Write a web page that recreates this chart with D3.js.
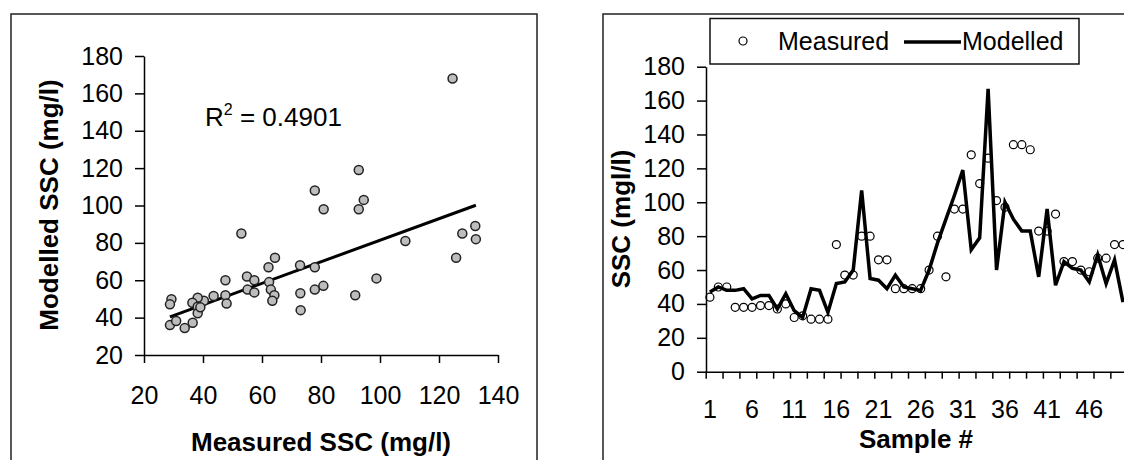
<!DOCTYPE html>
<html>
<head>
<meta charset="utf-8">
<script src="https://cdn.jsdelivr.net/npm/d3@7"></script>
<style>
  body { margin: 0; background: #fff; }
  svg { display: block; font-family: "Liberation Sans", Arial, sans-serif; }
  .axis path, .axis line { stroke: #000; stroke-width: 1.5px; }
  .axis text { font-size: 25px; fill: #000; font-family: "Liberation Sans", Arial, sans-serif; }
  .title { font-size: 26px; font-weight: bold; fill: #000; }
</style>
</head>
<body>
<div id="chart"></div>
<script>
// left panel: measured vs modelled scatter
var scatterMeasured = [124.6, 92.8, 77.9, 94.5, 92.8, 80.9, 53, 132.3, 127.9, 132.5,
                       108.6, 125.8, 64.4, 62.2, 72.9, 77.9, 98.8, 47.6, 54.9, 57.4,
                       62.4, 80.8, 77.9, 73, 63, 55.1, 57.4, 91.6, 64.2, 63.5,
                       73.1, 47.6, 48, 43.6, 40.3, 38.2, 36.4, 38.2, 38.2, 29.3,
                       28.8, 28.8, 30.9, 33.8, 36.5, 39.1];
var scatterModelled = [168, 119, 108, 103, 98, 98, 85, 89, 85, 82,
                       81, 72, 72, 67, 68, 67, 61, 60, 62, 60,
                       59, 57, 55, 53, 55, 55, 53.5, 52, 52, 49,
                       44, 52, 47.6, 51.6, 49, 50.6, 48, 45.8, 42.3, 49.8,
                       47.1, 36, 38.2, 34.4, 37.3, 45.5];
var trendSlope = 0.576;
var trendIntercept = 23.8;
var r2Value = "0.4901";
var xTicksLeft = [20, 40, 60, 80, 100, 120, 140];
var yTicksLeft = [20, 40, 60, 80, 100, 120, 140, 160, 180];

// right panel: time series by sample
var samples = [1, 2, 3, 4, 5, 6, 7, 8, 9, 10, 11, 12, 13, 14, 15, 16, 17, 18, 19, 20,
               21, 22, 23, 24, 25, 26, 27, 28, 29, 30, 31, 32, 33, 34, 35, 36, 37, 38, 39, 40,
               41, 42, 43, 44, 45, 46, 47, 48, 49, 50];
var measured = [44, 50, 50, 38, 38, 38, 39, 39, 37, 40, 32, 33, 31, 31, 31, 75, 57, 57, 80, 80,
                66, 66, 49, 49, 49, 49, 60, 80, 56, 96, 96, 128, 111, 126, 101, 97, 134, 134, 131, 83,
                83, 93, 65, 65, 60, 59, 67, 67, 75, 75];
var modelled = [47, 50, 48, 48, 49, 43, 45, 45, 37, 46, 36, 32, 49, 48, 35, 52, 53, 60, 107, 55,
                54, 49, 57, 50, 49, 48, 60, 76, 90, 104, 119, 72, 79, 167, 60, 100, 90, 83, 83, 56,
                96, 51, 65, 61, 60, 53, 69, 52, 66, 41];
var xLabelsRight = [1, 6, 11, 16, 21, 26, 31, 36, 41, 46];
var yTicksRight = [0, 20, 40, 60, 80, 100, 120, 140, 160, 180];

var w = 1124, h = 460;

var svg = d3.select("#chart").append("svg")
    .attr("width", w)
    .attr("height", h);

svg.append("rect").attr("width", w).attr("height", h).attr("fill", "#fff");

// ---------- left chart ----------
svg.append("path")
    .attr("d", "M11,460V14H537V460")
    .attr("fill", "none")
    .attr("stroke", "#222")
    .attr("stroke-width", 1.5);

var xL = d3.scaleLinear().domain([20, 140]).range([144, 498]);
var yL = d3.scaleLinear().domain([20, 180]).range([355, 56]);

svg.append("g")
    .attr("class", "axis")
    .attr("transform", "translate(0,355)")
    .call(d3.axisBottom(xL).tickValues(xTicksLeft).tickSize(8).tickSizeOuter(0).tickPadding(23));

svg.append("g")
    .attr("class", "axis")
    .attr("transform", "translate(144,0)")
    .call(d3.axisLeft(yL).tickValues(yTicksLeft).tickSize(9).tickSizeOuter(0).tickPadding(12));

var lineX = d3.extent(scatterMeasured);
svg.append("line")
    .attr("x1", xL(lineX[0]))
    .attr("y1", yL(trendIntercept + trendSlope * lineX[0]))
    .attr("x2", xL(lineX[1]))
    .attr("y2", yL(trendIntercept + trendSlope * lineX[1]))
    .attr("stroke", "#000")
    .attr("stroke-width", 3);

svg.append("g").selectAll("circle")
    .data(scatterMeasured)
    .enter()
    .append("circle")
    .attr("cx", function(d) { return xL(d); })
    .attr("cy", function(d, i) { return yL(scatterModelled[i]); })
    .attr("r", 4.5)
    .attr("fill", "#bdbdbd")
    .attr("stroke", "#222")
    .attr("stroke-width", 1.5);

var r2 = svg.append("text")
    .attr("x", 205)
    .attr("y", 126)
    .attr("font-size", 26);
r2.append("tspan").text("R");
r2.append("tspan").attr("font-size", 16).attr("dy", -11).text("2");
r2.append("tspan").attr("dy", 11).text(" = " + r2Value);

svg.append("text")
    .attr("class", "title")
    .attr("text-anchor", "middle")
    .attr("transform", "translate(58,205) rotate(-90)")
    .text("Modelled SSC (mg/l)");

svg.append("text")
    .attr("class", "title")
    .attr("text-anchor", "middle")
    .attr("x", 321)
    .attr("y", 451)
    .text("Measured SSC (mg/l)");

// ---------- right chart ----------
svg.append("path")
    .attr("d", "M603,460V14H1130")
    .attr("fill", "none")
    .attr("stroke", "#222")
    .attr("stroke-width", 1.5);

var xR = d3.scaleBand().domain(samples).range([705.7, 1127.2]);
var xEdge = d3.scaleLinear().domain([0, samples.length]).range([705.7, 1127.2]);
var yR = d3.scaleLinear().domain([0, 180]).range([371.7, 66.7]);

svg.append("g")
    .attr("class", "axis")
    .attr("transform", "translate(0,371.7)")
    .call(d3.axisBottom(xEdge).tickValues(d3.range(0, samples.length + 1, 2)).tickFormat("").tickSize(7).tickSizeOuter(0));

svg.append("g")
    .attr("class", "axis")
    .attr("transform", "translate(0,371.7)")
    .call(d3.axisBottom(xR).tickValues(xLabelsRight).tickSize(0).tickPadding(29))
    .call(function(g) { g.select(".domain").remove(); });

svg.append("g")
    .attr("class", "axis")
    .attr("transform", "translate(706,0)")
    .call(d3.axisLeft(yR).tickValues(yTicksRight).tickSize(9).tickSizeOuter(0).tickPadding(12));

function cx(d) { return xR(d) + xR.bandwidth() / 2; }

svg.append("g").selectAll("circle")
    .data(samples)
    .enter()
    .append("circle")
    .attr("cx", function(d) { return cx(d); })
    .attr("cy", function(d, i) { return yR(measured[i]); })
    .attr("r", 4)
    .attr("fill", "none")
    .attr("stroke", "#000")
    .attr("stroke-width", 1.2);

var line = d3.line()
    .x(function(d) { return cx(d); })
    .y(function(d, i) { return yR(modelled[i]); });

svg.append("path")
    .datum(samples)
    .attr("d", line)
    .attr("fill", "none")
    .attr("stroke", "#000")
    .attr("stroke-width", 3.5);

svg.append("text")
    .attr("class", "title")
    .attr("text-anchor", "middle")
    .attr("transform", "translate(630,219) rotate(-90)")
    .text("SSC (mgl/l)");

svg.append("text")
    .attr("class", "title")
    .attr("text-anchor", "middle")
    .attr("x", 916)
    .attr("y", 448)
    .text("Sample #");

// legend
var legend = svg.append("g");
legend.append("rect")
    .attr("x", 710).attr("y", 18.5)
    .attr("width", 369).attr("height", 45.5)
    .attr("fill", "#fff")
    .attr("stroke", "#111")
    .attr("stroke-width", 1.5);
legend.append("circle")
    .attr("cx", 743).attr("cy", 41).attr("r", 4)
    .attr("fill", "none").attr("stroke", "#000").attr("stroke-width", 1.2);
legend.append("text")
    .attr("x", 778).attr("y", 50).attr("font-size", 25)
    .text("Measured");
legend.append("line")
    .attr("x1", 904).attr("x2", 961).attr("y1", 42).attr("y2", 42)
    .attr("stroke", "#000").attr("stroke-width", 3.5);
legend.append("text")
    .attr("x", 962).attr("y", 50).attr("font-size", 25)
    .text("Modelled");
</script>
</body>
</html>
